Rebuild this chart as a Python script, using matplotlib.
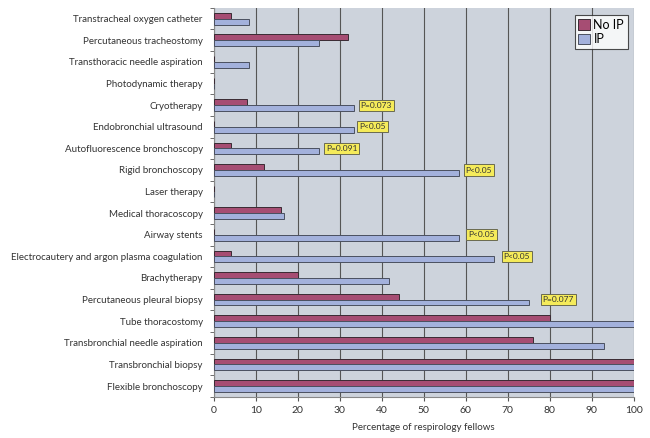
import numpy as np
import matplotlib
matplotlib.use("Agg")
import matplotlib.pyplot as plt

# categories from top to bottom
procedures = [
    "Transtracheal oxygen catheter",
    "Percutaneous tracheostomy",
    "Transthoracic needle aspiration",
    "Photodynamic therapy",
    "Cryotherapy",
    "Endobronchial ultrasound",
    "Autofluorescence bronchoscopy",
    "Rigid bronchoscopy",
    "Laser therapy",
    "Medical thoracoscopy",
    "Airway stents",
    "Electrocautery and argon plasma coagulation",
    "Brachytherapy",
    "Percutaneous pleural biopsy",
    "Tube thoracostomy",
    "Transbronchial needle aspiration",
    "Transbronchial biopsy",
    "Flexible bronchoscopy",
]
no_ip = [4, 32, 0, 0, 8, 0, 4, 12, 0, 16, 0, 4, 20, 44, 80, 76, 100, 100]
ip = [8.3, 25, 8.3, 0, 33.3, 33.3, 25, 58.3, 0, 16.7, 58.3, 66.7, 41.7, 75, 100, 93, 100, 100]

# p-value labels next to IP bars
p_labels = {
    "Cryotherapy": "P=0.073",
    "Endobronchial ultrasound": "P<0.05",
    "Autofluorescence bronchoscopy": "P=0.091",
    "Rigid bronchoscopy": "P<0.05",
    "Airway stents": "P<0.05",
    "Electrocautery and argon plasma coagulation": "P<0.05",
    "Percutaneous pleural biopsy": "P=0.077",
}
p_offsets = {
    "Cryotherapy": 5,
    "Endobronchial ultrasound": 4,
    "Autofluorescence bronchoscopy": 5,
    "Rigid bronchoscopy": 5,
    "Airway stents": 7,
    "Electrocautery and argon plasma coagulation": 7,
    "Percutaneous pleural biopsy": 10,
}

plt.rcParams['font.family'] = ['Lato', 'DejaVu Sans']

fig = plt.figure(figsize=(6.5, 4.38), dpi=100)
ax = fig.add_axes([0.329, 0.094, 0.646, 0.888])
ax.set_facecolor('#cdd3dc')

n = len(procedures)
y = np.arange(n)[::-1].astype(float)
h = 0.27

ax.barh(y + h / 2, no_ip, height=h, color='#a64d73', edgecolor='#3a2a33',
        linewidth=0.7, label='No IP', zorder=3)
ax.barh(y - h / 2, ip, height=h, color='#a3b1dc', edgecolor='#4a5060',
        linewidth=0.7, label='IP', zorder=3)

for i, name in enumerate(procedures):
    if name in p_labels:
        ax.annotate(p_labels[name], xy=(ip[i], y[i] - h / 2),
                    xytext=(p_offsets[name], 2), textcoords='offset points',
                    fontsize=6, va='center', ha='left', color='#333333',
                    bbox=dict(boxstyle='square,pad=0.25', fc='#f5eb5a',
                              ec='#6a6a50', lw=0.7),
                    zorder=5)

ax.set_xlim(0, 100)
ax.set_ylim(-0.5, n - 0.5)
ax.set_xticks(np.arange(0, 101, 10))
ax.tick_params(axis='x', labelsize=7.5, length=3, color='#555555', labelcolor='#333333')
ax.set_yticks(y)
ax.set_yticklabels(procedures, fontsize=7, color='#333333')
ax.tick_params(axis='y', length=0, pad=8)
ax.set_yticks(np.arange(n + 1) - 0.5, minor=True)
ax.tick_params(axis='y', which='minor', length=3, color='#555555')
ax.xaxis.grid(True, color='#555555', linewidth=0.8, zorder=1)
ax.set_axisbelow(True)
for side in ['top', 'right']:
    ax.spines[side].set_visible(False)
ax.spines['left'].set_color('#888888')
ax.spines['bottom'].set_color('#888888')

ax.set_xlabel('Percentage of respirology fellows', fontsize=7, color='#333333', labelpad=6)

leg = ax.legend(loc='upper right', fontsize=9, frameon=True, fancybox=False,
                edgecolor='#222222', handlelength=0.9, handleheight=0.9,
                handletextpad=0.3, borderpad=0.3, labelspacing=0.2,
                borderaxespad=0, bbox_to_anchor=(0.986, 0.982))
leg.get_frame().set_linewidth(0.8)

fig.savefig('out.png', dpi=100)
